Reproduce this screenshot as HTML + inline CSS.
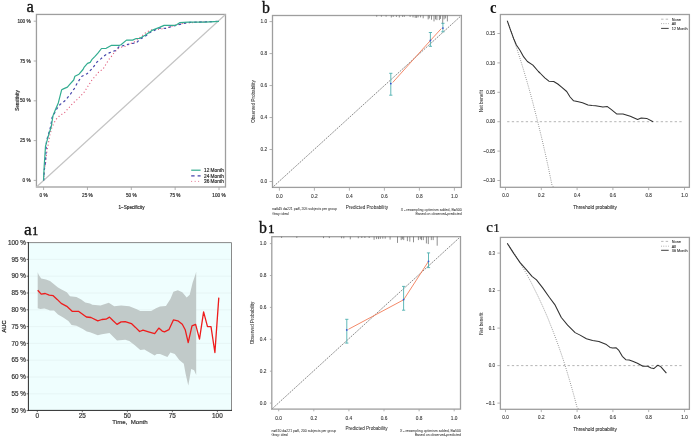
<!DOCTYPE html>
<html><head><meta charset="utf-8"><title>figure</title>
<style>
html,body{margin:0;padding:0;background:#fff;}
body{width:691px;height:438px;overflow:hidden;font-family:"Liberation Sans", sans-serif;}
svg{display:block;will-change:transform;}
</style></head>
<body>
<svg width="691" height="438" viewBox="0 0 691 438">

<rect x="36.45" y="14.45" width="189.05" height="172.55" fill="none" stroke="#9e9e9e" stroke-width="1.3"/>
<line x1="36.45" y1="187.00" x2="225.50" y2="14.45" stroke="#c4c4c4" stroke-width="1.2" />
<line x1="43.60" y1="187.00" x2="43.60" y2="190.00" stroke="#9e9e9e" stroke-width="0.8" />
<text x="43.60" y="197.19" font-family='"Liberation Sans", sans-serif' font-size="4.7" font-weight="normal" text-anchor="middle" fill="#333" stroke="#333" stroke-width="0.2" >0 %</text>
<line x1="87.45" y1="187.00" x2="87.45" y2="190.00" stroke="#9e9e9e" stroke-width="0.8" />
<text x="87.45" y="197.19" font-family='"Liberation Sans", sans-serif' font-size="4.7" font-weight="normal" text-anchor="middle" fill="#333" stroke="#333" stroke-width="0.2" >25 %</text>
<line x1="131.30" y1="187.00" x2="131.30" y2="190.00" stroke="#9e9e9e" stroke-width="0.8" />
<text x="131.30" y="197.19" font-family='"Liberation Sans", sans-serif' font-size="4.7" font-weight="normal" text-anchor="middle" fill="#333" stroke="#333" stroke-width="0.2" >50 %</text>
<line x1="175.15" y1="187.00" x2="175.15" y2="190.00" stroke="#9e9e9e" stroke-width="0.8" />
<text x="175.15" y="197.19" font-family='"Liberation Sans", sans-serif' font-size="4.7" font-weight="normal" text-anchor="middle" fill="#333" stroke="#333" stroke-width="0.2" >75 %</text>
<line x1="219.00" y1="187.00" x2="219.00" y2="190.00" stroke="#9e9e9e" stroke-width="0.8" />
<text x="219.00" y="197.19" font-family='"Liberation Sans", sans-serif' font-size="4.7" font-weight="normal" text-anchor="middle" fill="#333" stroke="#333" stroke-width="0.2" >100 %</text>
<line x1="33.70" y1="180.40" x2="36.45" y2="180.40" stroke="#9e9e9e" stroke-width="0.8" />
<text x="30.70" y="182.09" font-family='"Liberation Sans", sans-serif' font-size="4.7" font-weight="normal" text-anchor="end" fill="#333" stroke="#333" stroke-width="0.2" >0 %</text>
<line x1="33.70" y1="140.60" x2="36.45" y2="140.60" stroke="#9e9e9e" stroke-width="0.8" />
<text x="30.70" y="142.29" font-family='"Liberation Sans", sans-serif' font-size="4.7" font-weight="normal" text-anchor="end" fill="#333" stroke="#333" stroke-width="0.2" >25 %</text>
<line x1="33.70" y1="100.80" x2="36.45" y2="100.80" stroke="#9e9e9e" stroke-width="0.8" />
<text x="30.70" y="102.49" font-family='"Liberation Sans", sans-serif' font-size="4.7" font-weight="normal" text-anchor="end" fill="#333" stroke="#333" stroke-width="0.2" >50 %</text>
<line x1="33.70" y1="61.00" x2="36.45" y2="61.00" stroke="#9e9e9e" stroke-width="0.8" />
<text x="30.70" y="62.69" font-family='"Liberation Sans", sans-serif' font-size="4.7" font-weight="normal" text-anchor="end" fill="#333" stroke="#333" stroke-width="0.2" >75 %</text>
<line x1="33.70" y1="21.20" x2="36.45" y2="21.20" stroke="#9e9e9e" stroke-width="0.8" />
<text x="30.70" y="22.89" font-family='"Liberation Sans", sans-serif' font-size="4.7" font-weight="normal" text-anchor="end" fill="#333" stroke="#333" stroke-width="0.2" >100 %</text>
<text x="131.50" y="208.66" font-family='"Liberation Sans", sans-serif' font-size="4.6" font-weight="normal" text-anchor="middle" fill="#333" stroke="#333" stroke-width="0.2" >1&#8722;Specificity</text>
<text x="17.40" y="102.16" font-family='"Liberation Sans", sans-serif' font-size="4.6" font-weight="normal" text-anchor="middle" fill="#333" stroke="#333" stroke-width="0.2" transform="rotate(-90 17.40 100.50)" >Sensitivity</text>
<text x="26.4" y="11.8" font-family='"Liberation Serif", serif' font-size="16.5" fill="#111" stroke="#111" stroke-width="0.35">a</text>
<polyline points="43.6,180.4 44.3,170.0 45.5,164.0 46.2,156.5 46.9,151.7 48.3,144.2 49.6,136.0 52.0,126.9 56.0,119.4 60.0,115.4 64.4,112.8 69.0,107.6 73.0,103.2 77.0,99.6 83.8,92.8 91.8,80.2 95.2,76.2 98.6,72.2 103.2,68.8 108.7,59.7 112.4,55.3 113.8,53.2 117.4,49.2 120.7,47.4 125.4,46.3 129.7,44.1 134.4,41.9 138.4,38.7 142.8,35.1 145.0,33.3 150.4,30.0 159.5,29.2 165.6,28.4 174.7,25.4 183.8,23.1 205.1,21.8 219.0,21.4" fill="none" stroke="#e05a7a" stroke-width="1.1" stroke-dasharray="1.1,2.4" stroke-linejoin="round" />
<polyline points="43.6,180.4 44.3,170.0 45.5,162.0 46.5,140.8 48.4,134.5 50.3,128.0 51.0,124.6 52.0,117.7 56.6,109.1 60.0,104.6 64.6,101.1 70.3,94.3 74.3,88.6 76.6,84.3 78.9,80.6 81.5,76.5 87.0,73.8 92.5,68.3 97.1,61.9 100.8,58.9 105.1,55.2 109.8,52.6 115.3,50.6 119.2,46.6 124.7,45.3 130.5,43.7 136.2,43.0 140.2,39.0 145.0,36.5 150.4,32.2 159.5,28.0 165.6,28.4 171.7,26.5 177.8,24.9 183.8,23.4 189.9,22.4 205.1,21.8 219.0,21.4" fill="none" stroke="#4343aa" stroke-width="1.2" stroke-dasharray="2.5,2.7" stroke-linejoin="round" />
<polyline points="43.5,180.5 44.2,166.1 45.1,152.4 45.5,146.2 46.9,141.4 48.7,134.6 50.3,129.8 51.4,126.0 52.3,120.0 53.1,115.4 55.4,109.7 58.3,102.9 61.7,89.7 63.4,88.9 67.4,87.1 69.1,85.1 73.7,80.0 74.9,76.3 79.0,74.2 83.0,69.5 84.0,67.4 87.5,63.4 90.2,62.4 91.8,59.7 95.0,56.4 97.9,53.2 101.5,48.5 106.2,48.3 111.6,45.3 119.6,45.3 121.0,44.8 126.5,40.1 132.6,40.1 136.2,38.5 139.9,38.3 145.1,35.3 151.9,30.4 159.5,27.4 164.1,25.4 175.5,25.4 180.0,22.6 188.4,22.1 205.1,22.1 219.0,21.4" fill="none" stroke="#32ac90" stroke-width="1.2" stroke-linejoin="round" />
<line x1="191.20" y1="170.20" x2="200.60" y2="170.20" stroke="#32ac90" stroke-width="1.2" />
<text x="204.00" y="171.91" font-family='"Liberation Sans", sans-serif' font-size="4.75" font-weight="normal" text-anchor="start" fill="#333" stroke="#333" stroke-width="0.2" >12 Month</text>
<line x1="191.20" y1="175.90" x2="200.60" y2="175.90" stroke="#4343aa" stroke-width="1.3" stroke-dasharray="3.4,3" />
<text x="204.00" y="177.61" font-family='"Liberation Sans", sans-serif' font-size="4.75" font-weight="normal" text-anchor="start" fill="#333" stroke="#333" stroke-width="0.2" >24 Month</text>
<line x1="191.20" y1="181.40" x2="200.60" y2="181.40" stroke="#e05a7a" stroke-width="0.9" stroke-dasharray="0.9,2.6" />
<text x="204.00" y="183.11" font-family='"Liberation Sans", sans-serif' font-size="4.75" font-weight="normal" text-anchor="start" fill="#333" stroke="#333" stroke-width="0.2" >36 Month</text>
<rect x="28.4" y="242.6" width="203.1" height="167.79999999999998" fill="#effefe"/>
<line x1="28.40" y1="242.60" x2="231.50" y2="242.60" stroke="#e4f3f3" stroke-width="0.8" />
<line x1="28.40" y1="259.40" x2="231.50" y2="259.40" stroke="#e4f3f3" stroke-width="0.8" />
<line x1="28.40" y1="276.20" x2="231.50" y2="276.20" stroke="#e4f3f3" stroke-width="0.8" />
<line x1="28.40" y1="293.00" x2="231.50" y2="293.00" stroke="#e4f3f3" stroke-width="0.8" />
<line x1="28.40" y1="309.80" x2="231.50" y2="309.80" stroke="#e4f3f3" stroke-width="0.8" />
<line x1="28.40" y1="326.60" x2="231.50" y2="326.60" stroke="#e4f3f3" stroke-width="0.8" />
<line x1="28.40" y1="343.40" x2="231.50" y2="343.40" stroke="#e4f3f3" stroke-width="0.8" />
<line x1="28.40" y1="360.20" x2="231.50" y2="360.20" stroke="#e4f3f3" stroke-width="0.8" />
<line x1="28.40" y1="377.00" x2="231.50" y2="377.00" stroke="#e4f3f3" stroke-width="0.8" />
<line x1="28.40" y1="393.80" x2="231.50" y2="393.80" stroke="#e4f3f3" stroke-width="0.8" />
<line x1="28.40" y1="410.60" x2="231.50" y2="410.60" stroke="#e4f3f3" stroke-width="0.8" />
<polygon points="37.7,272.2 38.8,274.9 41.2,278.6 46.0,279.4 50.0,281.0 54.0,284.2 58.0,287.4 62.0,289.8 66.8,292.2 70.0,296.2 76.4,297.0 81.2,299.4 85.2,302.6 90.0,303.4 92.3,304.8 100.5,305.5 108.8,302.7 114.2,306.2 121.1,305.5 129.3,306.2 136.2,308.9 140.3,311.0 151.2,311.0 156.0,308.2 160.0,306.5 165.9,306.0 170.4,299.1 173.4,291.7 177.8,290.2 182.3,292.3 186.7,297.6 189.7,294.7 192.6,282.8 195.6,273.9 196.2,271.5 196.2,375.0 194.1,370.3 191.2,368.9 188.3,385.5 185.6,373.8 183.8,363.8 179.3,360.0 174.8,354.0 170.4,352.5 167.4,357.0 160.0,354.0 156.7,354.1 154.7,355.5 149.9,352.7 144.4,349.6 140.3,350.0 134.8,345.2 129.3,341.1 125.2,339.7 117.0,340.4 111.5,334.9 109.5,332.9 101.9,334.2 97.8,335.3 90.0,332.2 86.8,331.4 82.8,329.0 76.4,325.8 71.6,325.0 68.4,321.0 63.6,317.8 58.0,314.6 54.0,310.6 50.0,310.6 47.6,309.5 44.4,308.5 40.4,309.0 37.7,308.2" fill="#c1cac9" stroke="none"/>
<polyline points="37.7,290.3 41.2,294.1 45.2,293.5 49.2,295.1 53.2,295.7 57.2,299.4 61.2,303.4 66.8,306.3 72.4,311.4 78.8,311.4 86.4,317.0 91.0,317.5 97.8,320.8 101.9,319.5 106.0,319.2 109.5,317.1 112.9,320.5 117.0,324.4 121.1,321.9 125.2,321.6 131.4,323.6 135.5,327.4 139.6,331.5 143.0,330.1 148.5,331.8 154.7,333.6 158.8,328.1 162.2,331.1 164.5,331.8 168.9,329.7 173.4,319.9 177.8,320.8 182.3,324.3 185.2,329.7 188.2,342.7 192.0,325.8 195.6,324.3 199.5,339.2 203.6,311.9 207.5,326.7 211.0,326.7 214.9,352.5 218.8,297.6" fill="none" stroke="#ee1c1c" stroke-width="1.3" stroke-linejoin="round" />
<line x1="28.40" y1="242.60" x2="231.50" y2="242.60" stroke="#8a8a8a" stroke-width="1.0" />
<line x1="231.50" y1="242.60" x2="231.50" y2="410.40" stroke="#8a8a8a" stroke-width="1.0" />
<line x1="28.40" y1="242.10" x2="28.40" y2="410.90" stroke="#2a2a2a" stroke-width="1.0" />
<line x1="27.90" y1="410.40" x2="232.00" y2="410.40" stroke="#2a2a2a" stroke-width="1.0" />
<line x1="26.60" y1="242.60" x2="28.40" y2="242.60" stroke="#333" stroke-width="0.7" />
<text x="25.80" y="244.87" font-family='"Liberation Sans", sans-serif' font-size="6.3" font-weight="normal" text-anchor="end" fill="#333" stroke="#333" stroke-width="0.2" >100 %</text>
<line x1="26.60" y1="259.40" x2="28.40" y2="259.40" stroke="#333" stroke-width="0.7" />
<text x="25.80" y="261.67" font-family='"Liberation Sans", sans-serif' font-size="6.3" font-weight="normal" text-anchor="end" fill="#333" stroke="#333" stroke-width="0.2" >95 %</text>
<line x1="26.60" y1="276.20" x2="28.40" y2="276.20" stroke="#333" stroke-width="0.7" />
<text x="25.80" y="278.47" font-family='"Liberation Sans", sans-serif' font-size="6.3" font-weight="normal" text-anchor="end" fill="#333" stroke="#333" stroke-width="0.2" >90 %</text>
<line x1="26.60" y1="293.00" x2="28.40" y2="293.00" stroke="#333" stroke-width="0.7" />
<text x="25.80" y="295.27" font-family='"Liberation Sans", sans-serif' font-size="6.3" font-weight="normal" text-anchor="end" fill="#333" stroke="#333" stroke-width="0.2" >85 %</text>
<line x1="26.60" y1="309.80" x2="28.40" y2="309.80" stroke="#333" stroke-width="0.7" />
<text x="25.80" y="312.07" font-family='"Liberation Sans", sans-serif' font-size="6.3" font-weight="normal" text-anchor="end" fill="#333" stroke="#333" stroke-width="0.2" >80 %</text>
<line x1="26.60" y1="326.60" x2="28.40" y2="326.60" stroke="#333" stroke-width="0.7" />
<text x="25.80" y="328.87" font-family='"Liberation Sans", sans-serif' font-size="6.3" font-weight="normal" text-anchor="end" fill="#333" stroke="#333" stroke-width="0.2" >75 %</text>
<line x1="26.60" y1="343.40" x2="28.40" y2="343.40" stroke="#333" stroke-width="0.7" />
<text x="25.80" y="345.67" font-family='"Liberation Sans", sans-serif' font-size="6.3" font-weight="normal" text-anchor="end" fill="#333" stroke="#333" stroke-width="0.2" >70 %</text>
<line x1="26.60" y1="360.20" x2="28.40" y2="360.20" stroke="#333" stroke-width="0.7" />
<text x="25.80" y="362.47" font-family='"Liberation Sans", sans-serif' font-size="6.3" font-weight="normal" text-anchor="end" fill="#333" stroke="#333" stroke-width="0.2" >65 %</text>
<line x1="26.60" y1="377.00" x2="28.40" y2="377.00" stroke="#333" stroke-width="0.7" />
<text x="25.80" y="379.27" font-family='"Liberation Sans", sans-serif' font-size="6.3" font-weight="normal" text-anchor="end" fill="#333" stroke="#333" stroke-width="0.2" >60 %</text>
<line x1="26.60" y1="393.80" x2="28.40" y2="393.80" stroke="#333" stroke-width="0.7" />
<text x="25.80" y="396.07" font-family='"Liberation Sans", sans-serif' font-size="6.3" font-weight="normal" text-anchor="end" fill="#333" stroke="#333" stroke-width="0.2" >55 %</text>
<line x1="26.60" y1="410.60" x2="28.40" y2="410.60" stroke="#333" stroke-width="0.7" />
<text x="25.80" y="412.87" font-family='"Liberation Sans", sans-serif' font-size="6.3" font-weight="normal" text-anchor="end" fill="#333" stroke="#333" stroke-width="0.2" >50 %</text>
<line x1="37.30" y1="410.40" x2="37.30" y2="412.20" stroke="#333" stroke-width="0.7" />
<text x="37.30" y="417.50" font-family='"Liberation Sans", sans-serif' font-size="6.4" font-weight="normal" text-anchor="middle" fill="#333" stroke="#333" stroke-width="0.2" >0</text>
<line x1="82.32" y1="410.40" x2="82.32" y2="412.20" stroke="#333" stroke-width="0.7" />
<text x="82.32" y="417.50" font-family='"Liberation Sans", sans-serif' font-size="6.4" font-weight="normal" text-anchor="middle" fill="#333" stroke="#333" stroke-width="0.2" >25</text>
<line x1="127.35" y1="410.40" x2="127.35" y2="412.20" stroke="#333" stroke-width="0.7" />
<text x="127.35" y="417.50" font-family='"Liberation Sans", sans-serif' font-size="6.4" font-weight="normal" text-anchor="middle" fill="#333" stroke="#333" stroke-width="0.2" >50</text>
<line x1="172.38" y1="410.40" x2="172.38" y2="412.20" stroke="#333" stroke-width="0.7" />
<text x="172.38" y="417.50" font-family='"Liberation Sans", sans-serif' font-size="6.4" font-weight="normal" text-anchor="middle" fill="#333" stroke="#333" stroke-width="0.2" >75</text>
<line x1="217.40" y1="410.40" x2="217.40" y2="412.20" stroke="#333" stroke-width="0.7" />
<text x="217.40" y="417.50" font-family='"Liberation Sans", sans-serif' font-size="6.4" font-weight="normal" text-anchor="middle" fill="#333" stroke="#333" stroke-width="0.2" >100</text>
<text x="130.00" y="424.30" font-family='"Liberation Sans", sans-serif' font-size="6.1" font-weight="normal" text-anchor="middle" fill="#333" stroke="#333" stroke-width="0.2" >Time,&#160; Month</text>
<text x="4.20" y="328.55" font-family='"Liberation Sans", sans-serif' font-size="5.7" font-weight="normal" text-anchor="middle" fill="#333" stroke="#333" stroke-width="0.3" transform="rotate(-90 4.20 326.50)" >AUC</text>
<text x="23.9" y="234.8" font-family='"Liberation Serif", serif' font-size="17.5" fill="#111" stroke="#111" stroke-width="0.35">a<tspan x="31.9" font-size="12.6">1</tspan></text>
<rect x="272.5" y="15.5" width="188.89999999999998" height="171.9" fill="none" stroke="#9e9e9e" stroke-width="1.3"/>
<line x1="272.50" y1="187.40" x2="461.40" y2="15.50" stroke="#d8d8d8" stroke-width="0.7" />
<line x1="272.50" y1="187.40" x2="461.40" y2="15.50" stroke="#505050" stroke-width="0.8" stroke-dasharray="1,1.5" />
<line x1="279.40" y1="187.40" x2="279.40" y2="190.70" stroke="#9e9e9e" stroke-width="0.8" />
<text x="279.40" y="197.93" font-family='"Liberation Sans", sans-serif' font-size="4.8" font-weight="normal" text-anchor="middle" fill="#333" stroke="#333" stroke-width="0.08" >0.0</text>
<line x1="269.50" y1="181.50" x2="272.50" y2="181.50" stroke="#9e9e9e" stroke-width="0.8" />
<text x="267.20" y="183.23" font-family='"Liberation Sans", sans-serif' font-size="4.8" font-weight="normal" text-anchor="end" fill="#333" stroke="#333" stroke-width="0.08" >0.0</text>
<line x1="314.40" y1="187.40" x2="314.40" y2="190.70" stroke="#9e9e9e" stroke-width="0.8" />
<text x="314.40" y="197.93" font-family='"Liberation Sans", sans-serif' font-size="4.8" font-weight="normal" text-anchor="middle" fill="#333" stroke="#333" stroke-width="0.08" >0.2</text>
<line x1="269.50" y1="149.52" x2="272.50" y2="149.52" stroke="#9e9e9e" stroke-width="0.8" />
<text x="267.20" y="151.25" font-family='"Liberation Sans", sans-serif' font-size="4.8" font-weight="normal" text-anchor="end" fill="#333" stroke="#333" stroke-width="0.08" >0.2</text>
<line x1="349.40" y1="187.40" x2="349.40" y2="190.70" stroke="#9e9e9e" stroke-width="0.8" />
<text x="349.40" y="197.93" font-family='"Liberation Sans", sans-serif' font-size="4.8" font-weight="normal" text-anchor="middle" fill="#333" stroke="#333" stroke-width="0.08" >0.4</text>
<line x1="269.50" y1="117.54" x2="272.50" y2="117.54" stroke="#9e9e9e" stroke-width="0.8" />
<text x="267.20" y="119.27" font-family='"Liberation Sans", sans-serif' font-size="4.8" font-weight="normal" text-anchor="end" fill="#333" stroke="#333" stroke-width="0.08" >0.4</text>
<line x1="384.40" y1="187.40" x2="384.40" y2="190.70" stroke="#9e9e9e" stroke-width="0.8" />
<text x="384.40" y="197.93" font-family='"Liberation Sans", sans-serif' font-size="4.8" font-weight="normal" text-anchor="middle" fill="#333" stroke="#333" stroke-width="0.08" >0.6</text>
<line x1="269.50" y1="85.56" x2="272.50" y2="85.56" stroke="#9e9e9e" stroke-width="0.8" />
<text x="267.20" y="87.29" font-family='"Liberation Sans", sans-serif' font-size="4.8" font-weight="normal" text-anchor="end" fill="#333" stroke="#333" stroke-width="0.08" >0.6</text>
<line x1="419.40" y1="187.40" x2="419.40" y2="190.70" stroke="#9e9e9e" stroke-width="0.8" />
<text x="419.40" y="197.93" font-family='"Liberation Sans", sans-serif' font-size="4.8" font-weight="normal" text-anchor="middle" fill="#333" stroke="#333" stroke-width="0.08" >0.8</text>
<line x1="269.50" y1="53.58" x2="272.50" y2="53.58" stroke="#9e9e9e" stroke-width="0.8" />
<text x="267.20" y="55.31" font-family='"Liberation Sans", sans-serif' font-size="4.8" font-weight="normal" text-anchor="end" fill="#333" stroke="#333" stroke-width="0.08" >0.8</text>
<line x1="454.40" y1="187.40" x2="454.40" y2="190.70" stroke="#9e9e9e" stroke-width="0.8" />
<text x="454.40" y="197.93" font-family='"Liberation Sans", sans-serif' font-size="4.8" font-weight="normal" text-anchor="middle" fill="#333" stroke="#333" stroke-width="0.08" >1.0</text>
<line x1="269.50" y1="21.60" x2="272.50" y2="21.60" stroke="#9e9e9e" stroke-width="0.8" />
<text x="267.20" y="23.33" font-family='"Liberation Sans", sans-serif' font-size="4.8" font-weight="normal" text-anchor="end" fill="#333" stroke="#333" stroke-width="0.08" >1.0</text>
<line x1="376.70" y1="15.50" x2="376.70" y2="16.70" stroke="#444" stroke-width="0.6" />
<line x1="381.40" y1="15.50" x2="381.40" y2="16.70" stroke="#444" stroke-width="0.6" />
<line x1="386.10" y1="15.50" x2="386.10" y2="16.70" stroke="#444" stroke-width="0.6" />
<line x1="391.30" y1="15.50" x2="391.30" y2="17.50" stroke="#444" stroke-width="0.6" />
<line x1="393.20" y1="15.50" x2="393.20" y2="16.90" stroke="#444" stroke-width="0.6" />
<line x1="396.40" y1="15.50" x2="396.40" y2="16.90" stroke="#444" stroke-width="0.6" />
<line x1="399.30" y1="15.50" x2="399.30" y2="17.50" stroke="#444" stroke-width="0.6" />
<line x1="402.60" y1="15.50" x2="402.60" y2="16.90" stroke="#444" stroke-width="0.6" />
<line x1="404.30" y1="15.50" x2="404.30" y2="16.90" stroke="#444" stroke-width="0.6" />
<line x1="410.10" y1="15.50" x2="410.10" y2="16.90" stroke="#444" stroke-width="0.6" />
<line x1="413.00" y1="15.50" x2="413.00" y2="17.40" stroke="#444" stroke-width="0.6" />
<line x1="415.20" y1="15.50" x2="415.20" y2="17.90" stroke="#444" stroke-width="0.6" />
<line x1="416.60" y1="15.50" x2="416.60" y2="17.90" stroke="#444" stroke-width="0.6" />
<line x1="418.10" y1="15.50" x2="418.10" y2="17.40" stroke="#444" stroke-width="0.6" />
<line x1="420.60" y1="15.50" x2="420.60" y2="17.40" stroke="#444" stroke-width="0.6" />
<line x1="423.20" y1="15.50" x2="423.20" y2="18.30" stroke="#444" stroke-width="0.6" />
<line x1="428.20" y1="15.50" x2="428.20" y2="19.40" stroke="#444" stroke-width="0.6" />
<line x1="429.30" y1="15.50" x2="429.30" y2="18.40" stroke="#444" stroke-width="0.6" />
<line x1="431.50" y1="15.50" x2="431.50" y2="19.70" stroke="#444" stroke-width="0.6" />
<line x1="434.00" y1="15.50" x2="434.00" y2="21.40" stroke="#444" stroke-width="0.6" />
<line x1="435.50" y1="15.50" x2="435.50" y2="19.40" stroke="#444" stroke-width="0.6" />
<line x1="436.90" y1="15.50" x2="436.90" y2="20.10" stroke="#444" stroke-width="0.6" />
<line x1="439.40" y1="15.50" x2="439.40" y2="20.10" stroke="#444" stroke-width="0.6" />
<line x1="440.50" y1="15.50" x2="440.50" y2="18.90" stroke="#444" stroke-width="0.6" />
<line x1="442.70" y1="15.50" x2="442.70" y2="23.90" stroke="#444" stroke-width="0.6" />
<line x1="444.10" y1="15.50" x2="444.10" y2="19.40" stroke="#444" stroke-width="0.6" />
<line x1="445.60" y1="15.50" x2="445.60" y2="18.40" stroke="#444" stroke-width="0.6" />
<line x1="447.40" y1="15.50" x2="447.40" y2="21.40" stroke="#444" stroke-width="0.6" />
<polyline points="392.7,82.5 430.4,40.5 441.3,28.6" fill="none" stroke="#f27c58" stroke-width="0.9" stroke-linejoin="round" />
<line x1="390.80" y1="73.30" x2="390.80" y2="95.20" stroke="#4fb0b0" stroke-width="0.9" />
<line x1="389.20" y1="73.30" x2="392.40" y2="73.30" stroke="#4fb0b0" stroke-width="0.9" />
<line x1="389.20" y1="95.20" x2="392.40" y2="95.20" stroke="#4fb0b0" stroke-width="0.9" />
<circle cx="390.8" cy="83.6" r="0.9" fill="#3b4fd0"/>
<line x1="430.40" y1="32.50" x2="430.40" y2="46.30" stroke="#4fb0b0" stroke-width="0.9" />
<line x1="428.80" y1="32.50" x2="432.00" y2="32.50" stroke="#4fb0b0" stroke-width="0.9" />
<line x1="428.80" y1="46.30" x2="432.00" y2="46.30" stroke="#4fb0b0" stroke-width="0.9" />
<circle cx="430.4" cy="40.4" r="0.9" fill="#3b4fd0"/>
<line x1="442.90" y1="23.30" x2="442.90" y2="31.80" stroke="#4fb0b0" stroke-width="0.9" />
<line x1="441.30" y1="23.30" x2="444.50" y2="23.30" stroke="#4fb0b0" stroke-width="0.9" />
<line x1="441.30" y1="31.80" x2="444.50" y2="31.80" stroke="#4fb0b0" stroke-width="0.9" />
<circle cx="442.9" cy="28.1" r="0.9" fill="#3b4fd0"/>
<text x="366.90" y="208.66" font-family='"Liberation Sans", sans-serif' font-size="4.6" font-weight="normal" text-anchor="middle" fill="#333" stroke="#333" stroke-width="0.05" >Predicted Probability</text>
<text x="253.30" y="103.11" font-family='"Liberation Sans", sans-serif' font-size="4.6" font-weight="normal" text-anchor="middle" fill="#333" stroke="#333" stroke-width="0.05" transform="rotate(-90 253.30 101.45)" >Observed Probability</text>
<text x="272.30" y="210.32" font-family='"Liberation Sans", sans-serif' font-size="3.4" font-weight="normal" text-anchor="start" fill="#444" stroke="#444" stroke-width="0.05" textLength="64.7" lengthAdjust="spacingAndGlyphs" >n=645 d=221 p=8, 205 subjects per group</text>
<text x="272.30" y="214.52" font-family='"Liberation Sans", sans-serif' font-size="3.4" font-weight="normal" text-anchor="start" fill="#444" stroke="#444" stroke-width="0.05" textLength="16.4" lengthAdjust="spacingAndGlyphs" >Gray: ideal</text>
<text x="461.80" y="210.62" font-family='"Liberation Sans", sans-serif' font-size="3.4" font-weight="normal" text-anchor="end" fill="#444" stroke="#444" stroke-width="0.05" textLength="61.0" lengthAdjust="spacingAndGlyphs" >X - resampling optimism added, B=500</text>
<text x="461.80" y="214.52" font-family='"Liberation Sans", sans-serif' font-size="3.4" font-weight="normal" text-anchor="end" fill="#444" stroke="#444" stroke-width="0.05" textLength="46.2" lengthAdjust="spacingAndGlyphs" >Based on observed-predicted</text>
<text x="262.0" y="13.0" font-family='"Liberation Serif", serif' font-size="15.8" fill="#111" stroke="#111" stroke-width="0.35">b</text>
<rect x="271.8" y="236.7" width="188.7" height="172.40000000000003" fill="none" stroke="#9e9e9e" stroke-width="1.3"/>
<line x1="271.80" y1="409.10" x2="460.50" y2="236.70" stroke="#d8d8d8" stroke-width="0.7" />
<line x1="271.80" y1="409.10" x2="460.50" y2="236.70" stroke="#505050" stroke-width="0.8" stroke-dasharray="1,1.5" />
<line x1="278.70" y1="409.10" x2="278.70" y2="411.30" stroke="#9e9e9e" stroke-width="0.8" />
<text x="278.70" y="419.63" font-family='"Liberation Sans", sans-serif' font-size="4.8" font-weight="normal" text-anchor="middle" fill="#333" stroke="#333" stroke-width="0.08" >0.0</text>
<line x1="269.90" y1="403.10" x2="271.80" y2="403.10" stroke="#9e9e9e" stroke-width="0.8" />
<text x="266.50" y="404.83" font-family='"Liberation Sans", sans-serif' font-size="4.8" font-weight="normal" text-anchor="end" fill="#333" stroke="#333" stroke-width="0.08" >0.0</text>
<line x1="313.80" y1="409.10" x2="313.80" y2="411.30" stroke="#9e9e9e" stroke-width="0.8" />
<text x="313.80" y="419.63" font-family='"Liberation Sans", sans-serif' font-size="4.8" font-weight="normal" text-anchor="middle" fill="#333" stroke="#333" stroke-width="0.08" >0.2</text>
<line x1="269.90" y1="371.20" x2="271.80" y2="371.20" stroke="#9e9e9e" stroke-width="0.8" />
<text x="266.50" y="372.93" font-family='"Liberation Sans", sans-serif' font-size="4.8" font-weight="normal" text-anchor="end" fill="#333" stroke="#333" stroke-width="0.08" >0.2</text>
<line x1="348.90" y1="409.10" x2="348.90" y2="411.30" stroke="#9e9e9e" stroke-width="0.8" />
<text x="348.90" y="419.63" font-family='"Liberation Sans", sans-serif' font-size="4.8" font-weight="normal" text-anchor="middle" fill="#333" stroke="#333" stroke-width="0.08" >0.4</text>
<line x1="269.90" y1="339.30" x2="271.80" y2="339.30" stroke="#9e9e9e" stroke-width="0.8" />
<text x="266.50" y="341.03" font-family='"Liberation Sans", sans-serif' font-size="4.8" font-weight="normal" text-anchor="end" fill="#333" stroke="#333" stroke-width="0.08" >0.4</text>
<line x1="384.00" y1="409.10" x2="384.00" y2="411.30" stroke="#9e9e9e" stroke-width="0.8" />
<text x="384.00" y="419.63" font-family='"Liberation Sans", sans-serif' font-size="4.8" font-weight="normal" text-anchor="middle" fill="#333" stroke="#333" stroke-width="0.08" >0.6</text>
<line x1="269.90" y1="307.40" x2="271.80" y2="307.40" stroke="#9e9e9e" stroke-width="0.8" />
<text x="266.50" y="309.13" font-family='"Liberation Sans", sans-serif' font-size="4.8" font-weight="normal" text-anchor="end" fill="#333" stroke="#333" stroke-width="0.08" >0.6</text>
<line x1="419.10" y1="409.10" x2="419.10" y2="411.30" stroke="#9e9e9e" stroke-width="0.8" />
<text x="419.10" y="419.63" font-family='"Liberation Sans", sans-serif' font-size="4.8" font-weight="normal" text-anchor="middle" fill="#333" stroke="#333" stroke-width="0.08" >0.8</text>
<line x1="269.90" y1="275.50" x2="271.80" y2="275.50" stroke="#9e9e9e" stroke-width="0.8" />
<text x="266.50" y="277.23" font-family='"Liberation Sans", sans-serif' font-size="4.8" font-weight="normal" text-anchor="end" fill="#333" stroke="#333" stroke-width="0.08" >0.8</text>
<line x1="454.20" y1="409.10" x2="454.20" y2="411.30" stroke="#9e9e9e" stroke-width="0.8" />
<text x="454.20" y="419.63" font-family='"Liberation Sans", sans-serif' font-size="4.8" font-weight="normal" text-anchor="middle" fill="#333" stroke="#333" stroke-width="0.08" >1.0</text>
<line x1="269.90" y1="243.60" x2="271.80" y2="243.60" stroke="#9e9e9e" stroke-width="0.8" />
<text x="266.50" y="245.33" font-family='"Liberation Sans", sans-serif' font-size="4.8" font-weight="normal" text-anchor="end" fill="#333" stroke="#333" stroke-width="0.08" >1.0</text>
<line x1="281.60" y1="236.70" x2="281.60" y2="237.90" stroke="#444" stroke-width="0.6" />
<line x1="296.80" y1="236.70" x2="296.80" y2="237.90" stroke="#444" stroke-width="0.6" />
<line x1="323.50" y1="236.70" x2="323.50" y2="238.10" stroke="#444" stroke-width="0.6" />
<line x1="329.30" y1="236.70" x2="329.30" y2="238.10" stroke="#444" stroke-width="0.6" />
<line x1="341.60" y1="236.70" x2="341.60" y2="238.30" stroke="#444" stroke-width="0.6" />
<line x1="343.80" y1="236.70" x2="343.80" y2="238.30" stroke="#444" stroke-width="0.6" />
<line x1="350.30" y1="236.70" x2="350.30" y2="239.30" stroke="#444" stroke-width="0.6" />
<line x1="358.30" y1="236.70" x2="358.30" y2="238.30" stroke="#444" stroke-width="0.6" />
<line x1="361.80" y1="236.70" x2="361.80" y2="238.00" stroke="#444" stroke-width="0.6" />
<line x1="364.90" y1="236.70" x2="364.90" y2="238.00" stroke="#444" stroke-width="0.6" />
<line x1="369.20" y1="236.70" x2="369.20" y2="238.00" stroke="#444" stroke-width="0.6" />
<line x1="374.10" y1="236.70" x2="374.10" y2="239.80" stroke="#444" stroke-width="0.6" />
<line x1="376.60" y1="236.70" x2="376.60" y2="239.10" stroke="#444" stroke-width="0.6" />
<line x1="378.50" y1="236.70" x2="378.50" y2="239.10" stroke="#444" stroke-width="0.6" />
<line x1="380.30" y1="236.70" x2="380.30" y2="238.90" stroke="#444" stroke-width="0.6" />
<line x1="382.80" y1="236.70" x2="382.80" y2="238.70" stroke="#444" stroke-width="0.6" />
<line x1="385.20" y1="236.70" x2="385.20" y2="238.70" stroke="#444" stroke-width="0.6" />
<line x1="390.10" y1="236.70" x2="390.10" y2="239.60" stroke="#444" stroke-width="0.6" />
<line x1="397.50" y1="236.70" x2="397.50" y2="242.90" stroke="#444" stroke-width="0.6" />
<line x1="401.20" y1="236.70" x2="401.20" y2="240.10" stroke="#444" stroke-width="0.6" />
<line x1="402.40" y1="236.70" x2="402.40" y2="239.30" stroke="#444" stroke-width="0.6" />
<line x1="403.70" y1="236.70" x2="403.70" y2="240.10" stroke="#444" stroke-width="0.6" />
<line x1="407.40" y1="236.70" x2="407.40" y2="241.10" stroke="#444" stroke-width="0.6" />
<line x1="409.80" y1="236.70" x2="409.80" y2="241.60" stroke="#444" stroke-width="0.6" />
<line x1="413.50" y1="236.70" x2="413.50" y2="242.30" stroke="#444" stroke-width="0.6" />
<line x1="418.40" y1="236.70" x2="418.40" y2="240.10" stroke="#444" stroke-width="0.6" />
<line x1="420.30" y1="236.70" x2="420.30" y2="239.30" stroke="#444" stroke-width="0.6" />
<line x1="421.50" y1="236.70" x2="421.50" y2="240.10" stroke="#444" stroke-width="0.6" />
<line x1="423.30" y1="236.70" x2="423.30" y2="240.10" stroke="#444" stroke-width="0.6" />
<line x1="426.40" y1="236.70" x2="426.40" y2="243.40" stroke="#444" stroke-width="0.6" />
<line x1="428.30" y1="236.70" x2="428.30" y2="244.10" stroke="#444" stroke-width="0.6" />
<line x1="431.30" y1="236.70" x2="431.30" y2="240.10" stroke="#444" stroke-width="0.6" />
<line x1="433.20" y1="236.70" x2="433.20" y2="240.10" stroke="#444" stroke-width="0.6" />
<line x1="437.20" y1="236.70" x2="437.20" y2="245.70" stroke="#444" stroke-width="0.6" />
<polyline points="348.4,329.3 403.6,299.8 428.5,261.3" fill="none" stroke="#f27c58" stroke-width="0.9" stroke-linejoin="round" />
<line x1="346.80" y1="319.30" x2="346.80" y2="343.10" stroke="#4fb0b0" stroke-width="0.9" />
<line x1="345.20" y1="319.30" x2="348.40" y2="319.30" stroke="#4fb0b0" stroke-width="0.9" />
<line x1="345.20" y1="343.10" x2="348.40" y2="343.10" stroke="#4fb0b0" stroke-width="0.9" />
<circle cx="346.8" cy="329.9" r="0.9" fill="#3b4fd0"/>
<line x1="403.60" y1="286.40" x2="403.60" y2="310.20" stroke="#4fb0b0" stroke-width="0.9" />
<line x1="402.00" y1="286.40" x2="405.20" y2="286.40" stroke="#4fb0b0" stroke-width="0.9" />
<line x1="402.00" y1="310.20" x2="405.20" y2="310.20" stroke="#4fb0b0" stroke-width="0.9" />
<circle cx="403.6" cy="299.6" r="0.9" fill="#3b4fd0"/>
<line x1="428.50" y1="252.90" x2="428.50" y2="267.60" stroke="#4fb0b0" stroke-width="0.9" />
<line x1="426.90" y1="252.90" x2="430.10" y2="252.90" stroke="#4fb0b0" stroke-width="0.9" />
<line x1="426.90" y1="267.60" x2="430.10" y2="267.60" stroke="#4fb0b0" stroke-width="0.9" />
<circle cx="428.5" cy="261.3" r="0.9" fill="#3b4fd0"/>
<text x="366.45" y="430.36" font-family='"Liberation Sans", sans-serif' font-size="4.6" font-weight="normal" text-anchor="middle" fill="#333" stroke="#333" stroke-width="0.05" >Predicted Probability</text>
<text x="252.60" y="324.56" font-family='"Liberation Sans", sans-serif' font-size="4.6" font-weight="normal" text-anchor="middle" fill="#333" stroke="#333" stroke-width="0.05" transform="rotate(-90 252.60 322.90)" >Observed Probability</text>
<text x="271.60" y="432.02" font-family='"Liberation Sans", sans-serif' font-size="3.4" font-weight="normal" text-anchor="start" fill="#444" stroke="#444" stroke-width="0.05" textLength="64.7" lengthAdjust="spacingAndGlyphs" >n=610 d=221 p=8, 200 subjects per group</text>
<text x="271.60" y="436.22" font-family='"Liberation Sans", sans-serif' font-size="3.4" font-weight="normal" text-anchor="start" fill="#444" stroke="#444" stroke-width="0.05" textLength="16.4" lengthAdjust="spacingAndGlyphs" >Gray: ideal</text>
<text x="460.90" y="432.32" font-family='"Liberation Sans", sans-serif' font-size="3.4" font-weight="normal" text-anchor="end" fill="#444" stroke="#444" stroke-width="0.05" textLength="61.0" lengthAdjust="spacingAndGlyphs" >X - resampling optimism added, B=500</text>
<text x="460.90" y="436.22" font-family='"Liberation Sans", sans-serif' font-size="3.4" font-weight="normal" text-anchor="end" fill="#444" stroke="#444" stroke-width="0.05" textLength="46.2" lengthAdjust="spacingAndGlyphs" >Based on observed-predicted</text>
<text x="258.9" y="232.6" font-family='"Liberation Serif", serif' font-size="15.8" fill="#111" stroke="#111" stroke-width="0.35">b<tspan x="268.1" font-size="13.0">1</tspan></text>
<rect x="500.4" y="14.5" width="189.0" height="172.8" fill="none" stroke="#9e9e9e" stroke-width="1.3"/>
<line x1="505.50" y1="187.30" x2="505.50" y2="190.10" stroke="#9e9e9e" stroke-width="0.8" />
<text x="505.50" y="197.26" font-family='"Liberation Sans", sans-serif' font-size="4.6" font-weight="normal" text-anchor="middle" fill="#333" stroke="#333" stroke-width="0.1" >0.0</text>
<line x1="541.30" y1="187.30" x2="541.30" y2="190.10" stroke="#9e9e9e" stroke-width="0.8" />
<text x="541.30" y="197.26" font-family='"Liberation Sans", sans-serif' font-size="4.6" font-weight="normal" text-anchor="middle" fill="#333" stroke="#333" stroke-width="0.1" >0.2</text>
<line x1="577.10" y1="187.30" x2="577.10" y2="190.10" stroke="#9e9e9e" stroke-width="0.8" />
<text x="577.10" y="197.26" font-family='"Liberation Sans", sans-serif' font-size="4.6" font-weight="normal" text-anchor="middle" fill="#333" stroke="#333" stroke-width="0.1" >0.4</text>
<line x1="612.90" y1="187.30" x2="612.90" y2="190.10" stroke="#9e9e9e" stroke-width="0.8" />
<text x="612.90" y="197.26" font-family='"Liberation Sans", sans-serif' font-size="4.6" font-weight="normal" text-anchor="middle" fill="#333" stroke="#333" stroke-width="0.1" >0.6</text>
<line x1="648.70" y1="187.30" x2="648.70" y2="190.10" stroke="#9e9e9e" stroke-width="0.8" />
<text x="648.70" y="197.26" font-family='"Liberation Sans", sans-serif' font-size="4.6" font-weight="normal" text-anchor="middle" fill="#333" stroke="#333" stroke-width="0.1" >0.8</text>
<line x1="684.50" y1="187.30" x2="684.50" y2="190.10" stroke="#9e9e9e" stroke-width="0.8" />
<text x="684.50" y="197.26" font-family='"Liberation Sans", sans-serif' font-size="4.6" font-weight="normal" text-anchor="middle" fill="#333" stroke="#333" stroke-width="0.1" >1.0</text>
<line x1="497.40" y1="33.50" x2="500.40" y2="33.50" stroke="#9e9e9e" stroke-width="0.8" />
<text x="495.00" y="35.12" font-family='"Liberation Sans", sans-serif' font-size="4.5" font-weight="normal" text-anchor="end" fill="#333" stroke="#333" stroke-width="0.1" >0.15</text>
<line x1="497.40" y1="62.90" x2="500.40" y2="62.90" stroke="#9e9e9e" stroke-width="0.8" />
<text x="495.00" y="64.52" font-family='"Liberation Sans", sans-serif' font-size="4.5" font-weight="normal" text-anchor="end" fill="#333" stroke="#333" stroke-width="0.1" >0.10</text>
<line x1="497.40" y1="92.30" x2="500.40" y2="92.30" stroke="#9e9e9e" stroke-width="0.8" />
<text x="495.00" y="93.92" font-family='"Liberation Sans", sans-serif' font-size="4.5" font-weight="normal" text-anchor="end" fill="#333" stroke="#333" stroke-width="0.1" >0.05</text>
<line x1="497.40" y1="121.70" x2="500.40" y2="121.70" stroke="#9e9e9e" stroke-width="0.8" />
<text x="495.00" y="123.32" font-family='"Liberation Sans", sans-serif' font-size="4.5" font-weight="normal" text-anchor="end" fill="#333" stroke="#333" stroke-width="0.1" >0.00</text>
<line x1="497.40" y1="151.10" x2="500.40" y2="151.10" stroke="#9e9e9e" stroke-width="0.8" />
<text x="495.00" y="152.72" font-family='"Liberation Sans", sans-serif' font-size="4.5" font-weight="normal" text-anchor="end" fill="#333" stroke="#333" stroke-width="0.1" >&#8722;0.05</text>
<line x1="497.40" y1="180.50" x2="500.40" y2="180.50" stroke="#9e9e9e" stroke-width="0.8" />
<text x="495.00" y="182.12" font-family='"Liberation Sans", sans-serif' font-size="4.5" font-weight="normal" text-anchor="end" fill="#333" stroke="#333" stroke-width="0.1" >&#8722;0.10</text>
<text x="595.00" y="208.79" font-family='"Liberation Sans", sans-serif' font-size="4.7" font-weight="normal" text-anchor="middle" fill="#333" stroke="#333" stroke-width="0.1" >Threshold probability</text>
<text x="481.10" y="102.86" font-family='"Liberation Sans", sans-serif' font-size="4.6" font-weight="normal" text-anchor="middle" fill="#333" stroke="#333" stroke-width="0.05" transform="rotate(-90 481.10 101.20)" >Net benefit</text>
<line x1="507.15" y1="121.70" x2="681.70" y2="121.70" stroke="#a8a8a8" stroke-width="0.85" stroke-dasharray="2.3,2.354" />
<polyline points="507.3,20.7 509.1,25.7 510.9,30.8 512.7,36.0 514.5,41.2 516.2,46.6 518.0,52.2 519.8,57.8 521.6,63.5 523.4,69.4 525.2,75.5 527.0,81.6 528.8,87.9 530.6,94.4 532.4,100.9 534.1,107.7 535.9,114.6 537.7,121.7 539.5,129.0 541.3,136.4 543.1,144.0 544.9,151.9 546.7,159.9 548.5,168.1 550.2,176.6 552.0,185.3 553.8,187.3" fill="none" stroke="#555" stroke-width="0.75" stroke-dasharray="0.8,1.4" stroke-linejoin="round" />
<polyline points="507.3,20.9 510.0,28.6 513.7,38.7 516.4,45.0 520.1,50.5 523.7,56.9 527.4,61.5 532.9,65.1 538.4,71.5 540.0,73.0 544.8,77.8 548.9,81.2 553.7,81.5 557.8,84.0 561.9,87.4 566.7,91.5 570.1,97.0 573.6,100.8 578.4,101.8 582.5,102.7 588.0,104.9 592.1,105.5 595.6,105.7 602.9,107.1 607.4,106.6 611.1,109.3 616.6,113.9 623.0,113.9 630.3,116.3 637.6,119.4 641.2,118.1 646.7,118.4 653.1,121.7" fill="none" stroke="#303030" stroke-width="1.05" stroke-linejoin="round" />
<line x1="661.10" y1="19.20" x2="668.70" y2="19.20" stroke="#aaaaaa" stroke-width="0.8" stroke-dasharray="2.4,2.2" />
<text x="671.80" y="20.57" font-family='"Liberation Sans", sans-serif' font-size="3.8" font-weight="normal" text-anchor="start" fill="#333" stroke="#333" stroke-width="0.1" >None</text>
<line x1="661.10" y1="23.60" x2="668.70" y2="23.60" stroke="#777" stroke-width="0.7" stroke-dasharray="0.8,1.5" />
<text x="671.80" y="24.97" font-family='"Liberation Sans", sans-serif' font-size="3.8" font-weight="normal" text-anchor="start" fill="#333" stroke="#333" stroke-width="0.1" >All</text>
<line x1="661.10" y1="28.40" x2="668.70" y2="28.40" stroke="#2b2b2b" stroke-width="0.9" />
<text x="671.80" y="29.77" font-family='"Liberation Sans", sans-serif' font-size="3.8" font-weight="normal" text-anchor="start" fill="#333" stroke="#333" stroke-width="0.1" >12 Month</text>
<text transform="translate(489.9 12.6) scale(0.92 1)" font-family='"Liberation Serif", serif' font-size="16" font-weight="bold" fill="#111">c</text>
<rect x="500.4" y="237.4" width="189.0" height="171.9" fill="none" stroke="#9e9e9e" stroke-width="1.3"/>
<line x1="505.50" y1="409.30" x2="505.50" y2="412.10" stroke="#9e9e9e" stroke-width="0.8" />
<text x="505.50" y="419.26" font-family='"Liberation Sans", sans-serif' font-size="4.6" font-weight="normal" text-anchor="middle" fill="#333" stroke="#333" stroke-width="0.1" >0.0</text>
<line x1="541.30" y1="409.30" x2="541.30" y2="412.10" stroke="#9e9e9e" stroke-width="0.8" />
<text x="541.30" y="419.26" font-family='"Liberation Sans", sans-serif' font-size="4.6" font-weight="normal" text-anchor="middle" fill="#333" stroke="#333" stroke-width="0.1" >0.2</text>
<line x1="577.10" y1="409.30" x2="577.10" y2="412.10" stroke="#9e9e9e" stroke-width="0.8" />
<text x="577.10" y="419.26" font-family='"Liberation Sans", sans-serif' font-size="4.6" font-weight="normal" text-anchor="middle" fill="#333" stroke="#333" stroke-width="0.1" >0.4</text>
<line x1="612.90" y1="409.30" x2="612.90" y2="412.10" stroke="#9e9e9e" stroke-width="0.8" />
<text x="612.90" y="419.26" font-family='"Liberation Sans", sans-serif' font-size="4.6" font-weight="normal" text-anchor="middle" fill="#333" stroke="#333" stroke-width="0.1" >0.6</text>
<line x1="648.70" y1="409.30" x2="648.70" y2="412.10" stroke="#9e9e9e" stroke-width="0.8" />
<text x="648.70" y="419.26" font-family='"Liberation Sans", sans-serif' font-size="4.6" font-weight="normal" text-anchor="middle" fill="#333" stroke="#333" stroke-width="0.1" >0.8</text>
<line x1="684.50" y1="409.30" x2="684.50" y2="412.10" stroke="#9e9e9e" stroke-width="0.8" />
<text x="684.50" y="419.26" font-family='"Liberation Sans", sans-serif' font-size="4.6" font-weight="normal" text-anchor="middle" fill="#333" stroke="#333" stroke-width="0.1" >1.0</text>
<line x1="497.40" y1="253.10" x2="500.40" y2="253.10" stroke="#9e9e9e" stroke-width="0.8" />
<text x="495.00" y="254.72" font-family='"Liberation Sans", sans-serif' font-size="4.5" font-weight="normal" text-anchor="end" fill="#333" stroke="#333" stroke-width="0.1" >0.3</text>
<line x1="497.40" y1="290.60" x2="500.40" y2="290.60" stroke="#9e9e9e" stroke-width="0.8" />
<text x="495.00" y="292.22" font-family='"Liberation Sans", sans-serif' font-size="4.5" font-weight="normal" text-anchor="end" fill="#333" stroke="#333" stroke-width="0.1" >0.2</text>
<line x1="497.40" y1="328.10" x2="500.40" y2="328.10" stroke="#9e9e9e" stroke-width="0.8" />
<text x="495.00" y="329.72" font-family='"Liberation Sans", sans-serif' font-size="4.5" font-weight="normal" text-anchor="end" fill="#333" stroke="#333" stroke-width="0.1" >0.1</text>
<line x1="497.40" y1="365.60" x2="500.40" y2="365.60" stroke="#9e9e9e" stroke-width="0.8" />
<text x="495.00" y="367.22" font-family='"Liberation Sans", sans-serif' font-size="4.5" font-weight="normal" text-anchor="end" fill="#333" stroke="#333" stroke-width="0.1" >0.0</text>
<line x1="497.40" y1="403.10" x2="500.40" y2="403.10" stroke="#9e9e9e" stroke-width="0.8" />
<text x="495.00" y="404.72" font-family='"Liberation Sans", sans-serif' font-size="4.5" font-weight="normal" text-anchor="end" fill="#333" stroke="#333" stroke-width="0.1" >&#8722;0.1</text>
<text x="595.00" y="430.79" font-family='"Liberation Sans", sans-serif' font-size="4.7" font-weight="normal" text-anchor="middle" fill="#333" stroke="#333" stroke-width="0.1" >Threshold probability</text>
<text x="481.10" y="325.31" font-family='"Liberation Sans", sans-serif' font-size="4.6" font-weight="normal" text-anchor="middle" fill="#333" stroke="#333" stroke-width="0.05" transform="rotate(-90 481.10 323.65)" >Net benefit</text>
<line x1="507.15" y1="365.60" x2="681.70" y2="365.60" stroke="#a8a8a8" stroke-width="0.85" stroke-dasharray="2.3,2.354" />
<polyline points="507.3,243.3 509.1,245.8 510.9,248.5 512.7,251.1 514.5,253.9 516.2,256.7 518.0,259.6 519.8,262.5 521.6,265.5 523.4,268.5 525.2,271.6 527.0,274.8 528.8,278.1 530.6,281.4 532.4,284.9 534.1,288.4 535.9,292.0 537.7,295.6 539.5,299.4 541.3,303.3 543.1,307.2 544.9,311.3 546.7,315.4 548.5,319.7 550.2,324.1 552.0,328.6 553.8,333.2 555.6,338.0 557.4,342.9 559.2,347.9 561.0,353.1 562.8,358.4 564.6,363.9 566.4,369.6 568.1,375.4 569.9,381.4 571.7,387.6 573.5,394.0 575.3,400.6 577.1,407.5 578.9,409.3" fill="none" stroke="#555" stroke-width="0.75" stroke-dasharray="0.8,1.4" stroke-linejoin="round" />
<polyline points="507.3,243.4 513.7,253.4 520.1,262.6 526.5,269.9 532.0,276.3 536.5,279.9 542.9,288.1 549.3,297.3 554.8,304.6 556.3,307.5 561.3,317.5 567.6,325.1 575.1,332.6 580.1,335.1 586.4,338.8 592.6,340.6 598.9,341.4 606.4,344.6 610.0,347.4 612.7,348.1 616.2,347.8 618.9,350.4 622.3,356.3 625.8,359.7 629.2,360.0 633.3,361.4 637.4,363.2 642.9,366.2 647.7,366.3 651.1,367.9 653.8,368.6 657.9,365.2 660.7,366.6 666.4,373.2" fill="none" stroke="#303030" stroke-width="1.05" stroke-linejoin="round" />
<line x1="661.10" y1="241.40" x2="668.70" y2="241.40" stroke="#aaaaaa" stroke-width="0.8" stroke-dasharray="2.4,2.2" />
<text x="671.80" y="242.77" font-family='"Liberation Sans", sans-serif' font-size="3.8" font-weight="normal" text-anchor="start" fill="#333" stroke="#333" stroke-width="0.1" >None</text>
<line x1="661.10" y1="246.20" x2="668.70" y2="246.20" stroke="#777" stroke-width="0.7" stroke-dasharray="0.8,1.5" />
<text x="671.80" y="247.57" font-family='"Liberation Sans", sans-serif' font-size="3.8" font-weight="normal" text-anchor="start" fill="#333" stroke="#333" stroke-width="0.1" >All</text>
<line x1="661.10" y1="250.30" x2="668.70" y2="250.30" stroke="#2b2b2b" stroke-width="0.9" />
<text x="671.80" y="251.67" font-family='"Liberation Sans", sans-serif' font-size="3.8" font-weight="normal" text-anchor="start" fill="#333" stroke="#333" stroke-width="0.1" >36 Month</text>
<text x="486.3" y="231.9" font-family='"Liberation Serif", serif' font-size="15.2" fill="#111" stroke="#111" stroke-width="0.2">c<tspan x="493.2" font-size="13.0">1</tspan></text>
</svg>
</body></html>
